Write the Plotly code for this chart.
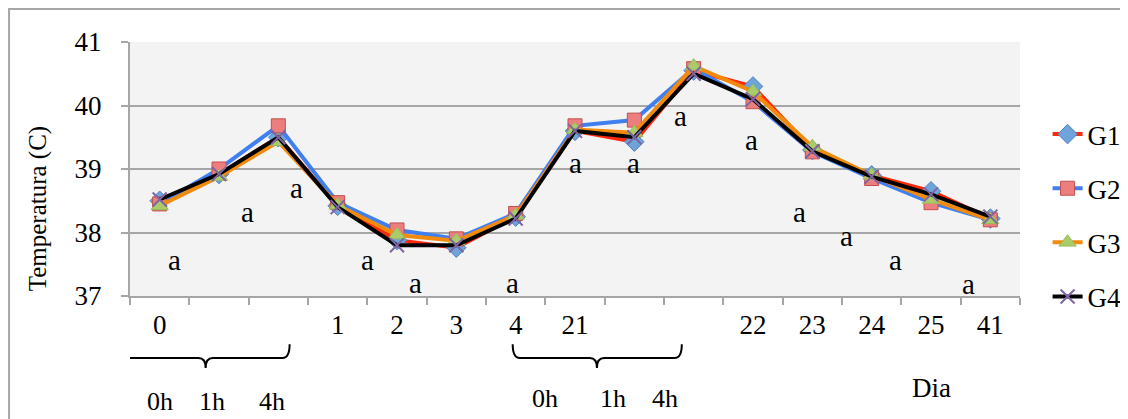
import plotly.graph_objects as go

# ---- data ----
day_labels = ["0", "", "", "1", "2", "3", "4", "21", "", "", "22", "23", "24", "25", "41"]
g1 = [38.50, 38.92, 39.50, 38.42, 37.88, 37.76, 38.25, 39.60, 39.43, 40.55, 40.30, 39.30, 38.90, 38.65, 38.22]
g2 = [38.45, 39.00, 39.68, 38.47, 38.04, 37.90, 38.30, 39.68, 39.77, 40.58, 40.06, 39.27, 38.85, 38.47, 38.20]
g3 = [38.42, 38.88, 39.43, 38.43, 37.96, 37.87, 38.27, 39.62, 39.57, 40.62, 40.22, 39.35, 38.90, 38.52, 38.20]
g4 = [38.52, 38.92, 39.50, 38.40, 37.80, 37.80, 38.22, 39.60, 39.50, 40.50, 40.10, 39.28, 38.88, 38.60, 38.25]
series_names = ["G1", "G2", "G3", "G4"]

# significance letters (text, x in category index, y in °C)
sig_text = ["a"] * 14
sig_x = [0.25, 1.48, 2.31, 3.50, 4.32, 5.94, 7.00, 7.98, 8.77, 9.98, 10.79, 11.58, 12.41, 13.63]
sig_y = [37.57, 38.33, 38.70, 37.57, 37.20, 37.20, 39.10, 39.10, 39.84, 39.46, 38.33, 37.95, 37.57, 37.19]

# hour sub-labels under the braces
hour_text = ["0h", "1h", "4h", "0h", "1h", "4h"]
hour_x = [0.0, 0.89, 1.90, 6.49, 7.64, 8.51]
hour_y = [-0.417, -0.417, -0.417, -0.402, -0.402, -0.402]

xs = list(range(len(day_labels)))
FONT = "Liberation Serif, Times New Roman, serif"

styles = [
    dict(line=dict(color="#FF2A0A", width=4),
         marker=dict(symbol="diamond", size=15, color="#6FA3DC", line=dict(color="#4F81BD", width=1))),
    dict(line=dict(color="#3F7FF0", width=4),
         marker=dict(symbol="square", size=14, color="#EC7F7D", line=dict(color="#C0504D", width=1))),
    dict(line=dict(color="#F28A0C", width=4),
         marker=dict(symbol="triangle-up", size=15, color="#A9CB6A", line=dict(color="#9BBB59", width=1))),
    dict(line=dict(color="#000000", width=4),
         marker=dict(symbol="x-thin", size=14, color="#8064A2", line=dict(color="#8064A2", width=2))),
]

fig = go.Figure()
for name, ys, st in zip(series_names, [g1, g2, g3, g4], styles):
    fig.add_trace(go.Scatter(x=xs, y=ys, name=name, mode="lines+markers",
                             legendgroup=name, **st))

annotations = []
for t, x, y in zip(sig_text, sig_x, sig_y):
    annotations.append(dict(x=x, y=y, xref="x", yref="y", text=t, showarrow=False,
                            xanchor="center", yanchor="middle",
                            font=dict(family=FONT, size=29, color="#000")))
for t, x, y in zip(hour_text, hour_x, hour_y):
    annotations.append(dict(x=x, y=y, xref="x", yref="paper", text=t, showarrow=False,
                            xanchor="center", yanchor="middle",
                            font=dict(family=FONT, size=26, color="#000")))
annotations.append(dict(x=13.01, y=-0.362, xref="x", yref="paper", text="Dia", showarrow=False,
                        xanchor="center", yanchor="middle",
                        font=dict(family=FONT, size=27, color="#000")))
annotations.append(dict(x=-0.1034, y=0.345, xref="paper", yref="paper", text="Temperatura (C)",
                        xanchor="center", yanchor="middle",
                        textangle=-90, showarrow=False, font=dict(family=FONT, size=25, color="#000")))


def brace(x0, x1, xm, ytop, yline, ybot, d=0.12):
    return (f"M {x0},{ytop} Q {x0},{yline} {x0 + d},{yline} L {xm - d},{yline} "
            f"Q {xm},{yline} {xm},{ybot} Q {xm},{yline} {xm + d},{yline} "
            f"L {x1 - d},{yline} Q {x1},{yline} {x1},{ytop}")


shapes = [
    dict(type="path", xref="x", yref="paper",
         path=brace(-0.64, 2.19, 0.775, -0.19, -0.244, -0.283),
         line=dict(color="#000", width=2)),
    dict(type="path", xref="x", yref="paper",
         path=brace(5.95, 8.80, 7.37, -0.19, -0.244, -0.283),
         line=dict(color="#000", width=2)),
    dict(type="rect", xref="paper", yref="paper", x0=-0.1359, x1=1.2, y0=-0.6, y1=1.1299,
         line=dict(color="#A6A6A6", width=2), layer="below"),
]

# the page body adds an 8px offset; margins compensate so the plot lands where the reference has it
fig.update_layout(
    width=1128, height=419,
    margin=dict(l=122, r=116, t=34, b=131, autoexpand=False),
    paper_bgcolor="white", plot_bgcolor="#F3F3F3",
    font=dict(family=FONT, size=27, color="#000"),
    showlegend=True,
    legend=dict(x=1.031, xanchor="left", y=0.732, yanchor="top", tracegroupgap=16,
                font=dict(family=FONT, size=27), bgcolor="rgba(0,0,0,0)"),
    annotations=annotations, shapes=shapes,
    xaxis=dict(range=[-0.5, 14.5], tickmode="array", tickvals=xs, ticktext=day_labels,
               ticks="", showgrid=False, zeroline=False, showline=True, linecolor="#A6A6A6",
               linewidth=2, ticklabelstandoff=4, automargin=False,
               minor=dict(tick0=-0.5, dtick=1, ticks="outside", ticklen=7, tickcolor="#A6A6A6",
                          tickwidth=2, showgrid=False)),
    yaxis=dict(range=[37, 41], dtick=1, ticks="outside", ticklen=7, tickcolor="#A6A6A6", tickwidth=2,
               showgrid=True, gridcolor="#A6A6A6", gridwidth=2, zeroline=False, automargin=False,
               showline=True, linecolor="#A6A6A6", linewidth=2, ticklabelstandoff=14),
)

fig.write_html("out.html")
